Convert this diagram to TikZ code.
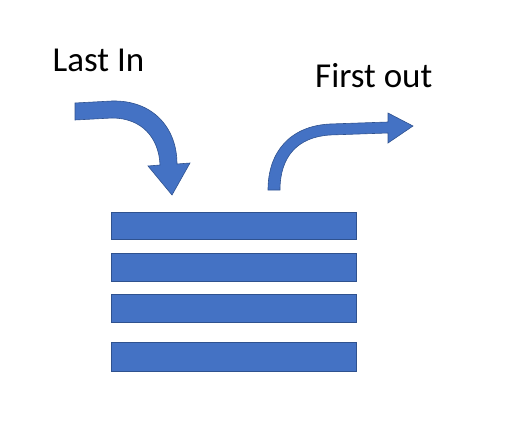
\documentclass[tikz,border=0pt]{standalone}
\usepackage{fontspec}
\setmainfont{Carlito}
\definecolor{stackblue}{HTML}{4472C4}
\definecolor{stackedge}{HTML}{2F528F}
\tikzset{
  stackbar/.style={fill=stackblue, draw=stackedge, line width=0.6pt},
  label/.style={anchor=base west, inner sep=0pt, font=\fontsize{35}{41}\selectfont}
}
\begin{document}
\begin{tikzpicture}[x=1pt,y=-1pt]
        \useasboundingbox (0,0) rectangle (512,428);
        \node[label] (lastin) at (52.5,71.7) {Last In};
        \node[label] (firstout) at (315,87.3) {First out};
        % the stack
        \foreach \top/\bot in {212/239,253/281,294/322,342/371}{%
        \filldraw [stackbar] (111,\top) rectangle (356,\bot);
        }
        % push arrow
        \filldraw [stackbar] (75,103) -- (112,101)
          .. controls (152,100) and (177,127) .. (177,164)
          -- (190,163) -- (172,195) -- (148,166) -- (160,165)
          .. controls (159,138) and (142,118) .. (112,118)
          -- (75,120) -- cycle;
        % pop arrow
        \filldraw [stackbar] (268,190)
          .. controls (268,152) and (290,126) .. (330,124)
          -- (388,122) -- (388,113) -- (413,126) -- (388,143) -- (388,133)
          -- (330,135) .. controls (298,137) and (280,156) .. (280,190)
          -- cycle;
      \end{tikzpicture}
\end{document}
